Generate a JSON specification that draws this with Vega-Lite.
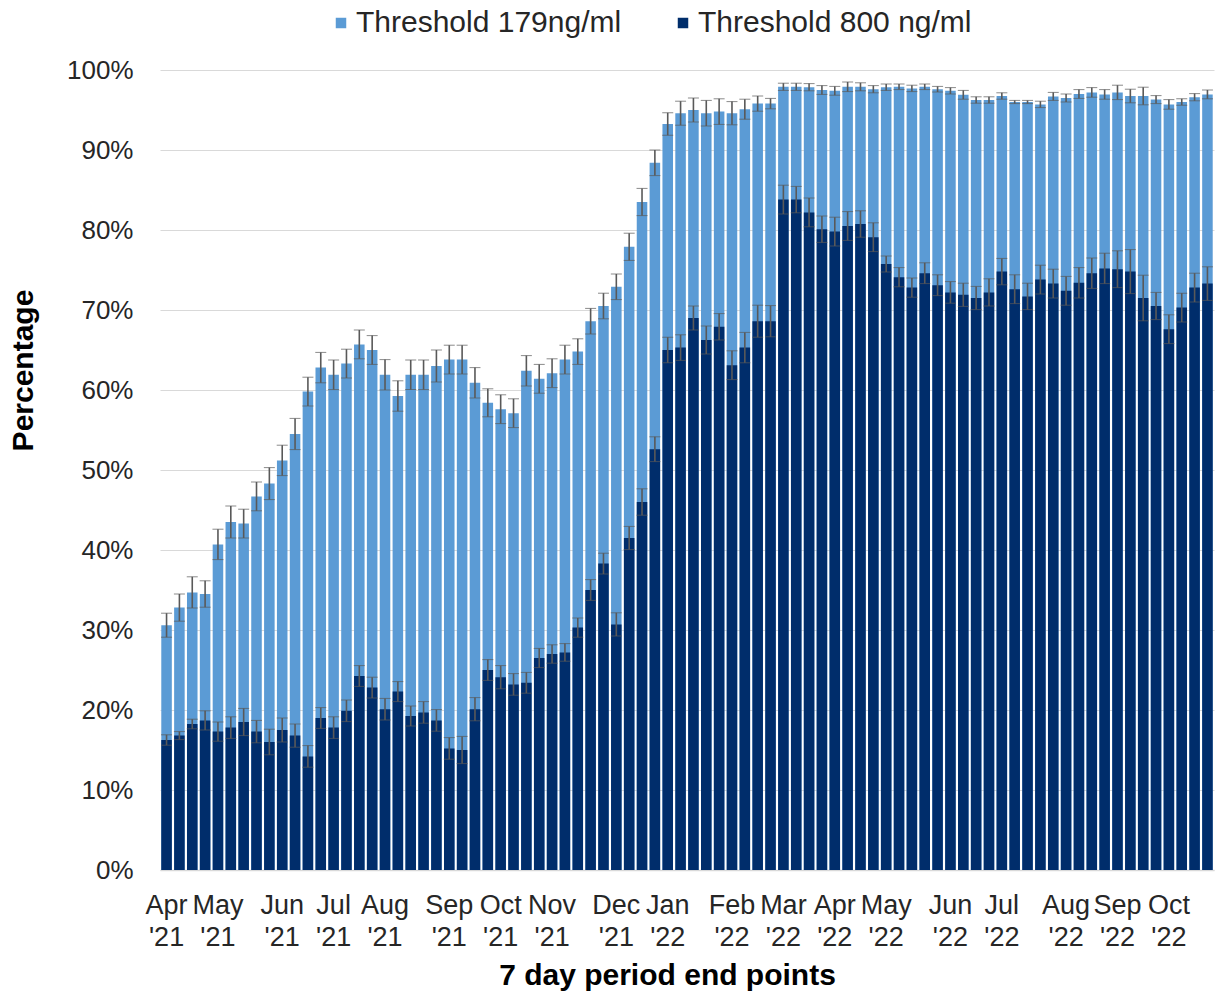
{
  "$schema": "https://vega.github.io/schema/vega-lite/v6.json",
  "width": 1054,
  "height": 800,
  "autosize": {"type": "none"},
  "padding": {"left": 160, "top": 70, "right": 2, "bottom": 121},
  "background": "white",
  "config": {
    "view": {"stroke": null},
    "font": "Liberation Sans",
    "axisX": {
      "domainColor": "#D9D9D9", "domainWidth": 1.5, "ticks": false, "grid": false,
      "labelFontSize": 27, "labelColor": "#262626", "labelAngle": 0, "labelPadding": 22,
      "labelLineHeight": 32, "labelOverlap": false, "labelBound": false, "labelFont": "Liberation Sans",
      "titleFontSize": 30, "titleFontWeight": "bold", "titleColor": "#000000", "titlePadding": 10, "titleFont": "Liberation Sans"
    },
    "axisY": {
      "domain": false, "ticks": false, "gridColor": "#D9D9D9", "gridWidth": 1,
      "labelFontSize": 26, "labelColor": "#262626", "labelPadding": 27, "labelFont": "Liberation Sans",
      "titleFontSize": 30, "titleFontWeight": "bold", "titleColor": "#000000", "titlePadding": 28, "titleFont": "Liberation Sans"
    }
  },
  "data": {"values": [
    {"w":0,"a":30.6,"aLo":29.1,"aHi":32.1,"b":16.25,"bLo":15.6,"bHi":16.9},
    {"w":1,"a":32.8,"aLo":31.1,"aHi":34.5,"b":16.8,"bLo":16.3,"bHi":17.3},
    {"w":2,"a":34.7,"aLo":32.75,"aHi":36.65,"b":18.25,"bLo":17.65,"bHi":18.85},
    {"w":3,"a":34.5,"aLo":32.85,"aHi":36.15,"b":18.7,"bLo":17.5,"bHi":19.9},
    {"w":4,"a":40.7,"aLo":38.8,"aHi":42.6,"b":17.3,"bLo":16.1,"bHi":18.5},
    {"w":5,"a":43.5,"aLo":41.5,"aHi":45.5,"b":17.8,"bLo":16.45,"bHi":19.15},
    {"w":6,"a":43.3,"aLo":41.5,"aHi":45.1,"b":18.5,"bLo":16.8,"bHi":20.2},
    {"w":7,"a":46.7,"aLo":44.9,"aHi":48.5,"b":17.3,"bLo":15.9,"bHi":18.7},
    {"w":8,"a":48.3,"aLo":46.3,"aHi":50.3,"b":16.0,"bLo":14.4,"bHi":17.6},
    {"w":9,"a":51.2,"aLo":49.3,"aHi":53.1,"b":17.5,"bLo":16.0,"bHi":19.0},
    {"w":10,"a":54.5,"aLo":52.55,"aHi":56.45,"b":16.8,"bLo":15.35,"bHi":18.25},
    {"w":11,"a":59.8,"aLo":58.0,"aHi":61.6,"b":14.2,"bLo":12.85,"bHi":15.55},
    {"w":12,"a":62.8,"aLo":60.9,"aHi":64.7,"b":19.0,"bLo":17.7,"bHi":20.3},
    {"w":13,"a":61.9,"aLo":60.05,"aHi":63.75,"b":17.8,"bLo":16.45,"bHi":19.15},
    {"w":14,"a":63.3,"aLo":61.5,"aHi":65.1,"b":19.9,"bLo":18.55,"bHi":21.25},
    {"w":15,"a":65.7,"aLo":63.9,"aHi":67.5,"b":24.25,"bLo":22.95,"bHi":25.55},
    {"w":16,"a":65.0,"aLo":63.2,"aHi":66.8,"b":22.8,"bLo":21.5,"bHi":24.1},
    {"w":17,"a":61.9,"aLo":60.0,"aHi":63.8,"b":20.1,"bLo":18.75,"bHi":21.45},
    {"w":18,"a":59.25,"aLo":57.35,"aHi":61.15,"b":22.3,"bLo":21.05,"bHi":23.55},
    {"w":19,"a":61.9,"aLo":60.05,"aHi":63.75,"b":19.25,"bLo":18.0,"bHi":20.5},
    {"w":20,"a":61.9,"aLo":60.05,"aHi":63.75,"b":19.7,"bLo":18.35,"bHi":21.05},
    {"w":21,"a":63.0,"aLo":61.0,"aHi":65.0,"b":18.7,"bLo":17.35,"bHi":20.05},
    {"w":22,"a":63.8,"aLo":62.0,"aHi":65.6,"b":15.2,"bLo":13.85,"bHi":16.55},
    {"w":23,"a":63.8,"aLo":62.0,"aHi":65.6,"b":15.0,"bLo":13.3,"bHi":16.7},
    {"w":24,"a":60.9,"aLo":59.0,"aHi":62.8,"b":20.1,"bLo":18.65,"bHi":21.55},
    {"w":25,"a":58.4,"aLo":56.65,"aHi":60.15,"b":25.0,"bLo":23.7,"bHi":26.3},
    {"w":26,"a":57.6,"aLo":55.8,"aHi":59.4,"b":24.1,"bLo":22.65,"bHi":25.55},
    {"w":27,"a":57.1,"aLo":55.3,"aHi":58.9,"b":23.2,"bLo":21.85,"bHi":24.55},
    {"w":28,"a":62.4,"aLo":60.5,"aHi":64.3,"b":23.4,"bLo":22.1,"bHi":24.7},
    {"w":29,"a":61.4,"aLo":59.6,"aHi":63.2,"b":26.5,"bLo":25.3,"bHi":27.7},
    {"w":30,"a":62.1,"aLo":60.3,"aHi":63.9,"b":27.0,"bLo":25.85,"bHi":28.15},
    {"w":31,"a":63.8,"aLo":62.0,"aHi":65.6,"b":27.2,"bLo":26.1,"bHi":28.3},
    {"w":32,"a":64.8,"aLo":63.2,"aHi":66.4,"b":30.3,"bLo":29.1,"bHi":31.5},
    {"w":33,"a":68.6,"aLo":67.0,"aHi":70.2,"b":35.0,"bLo":33.7,"bHi":36.3},
    {"w":34,"a":70.5,"aLo":68.9,"aHi":72.1,"b":38.3,"bLo":37.0,"bHi":39.6},
    {"w":35,"a":72.9,"aLo":71.3,"aHi":74.5,"b":30.7,"bLo":29.25,"bHi":32.15},
    {"w":36,"a":77.9,"aLo":76.2,"aHi":79.6,"b":41.5,"bLo":40.05,"bHi":42.95},
    {"w":37,"a":83.5,"aLo":81.8,"aHi":85.2,"b":46.0,"bLo":44.35,"bHi":47.65},
    {"w":38,"a":88.4,"aLo":86.8,"aHi":90.0,"b":52.6,"bLo":51.05,"bHi":54.15},
    {"w":39,"a":93.25,"aLo":91.85,"aHi":94.65,"b":65.0,"bLo":63.4,"bHi":66.6},
    {"w":40,"a":94.6,"aLo":93.1,"aHi":96.1,"b":65.3,"bLo":63.7,"bHi":66.9},
    {"w":41,"a":95.0,"aLo":93.5,"aHi":96.5,"b":69.0,"bLo":67.5,"bHi":70.5},
    {"w":42,"a":94.6,"aLo":93.0,"aHi":96.2,"b":66.25,"bLo":64.5,"bHi":68.0},
    {"w":43,"a":94.8,"aLo":93.2,"aHi":96.4,"b":67.9,"bLo":66.25,"bHi":69.55},
    {"w":44,"a":94.6,"aLo":93.15,"aHi":96.05,"b":63.1,"bLo":61.3,"bHi":64.9},
    {"w":45,"a":95.1,"aLo":93.85,"aHi":96.35,"b":65.3,"bLo":63.4,"bHi":67.2},
    {"w":46,"a":95.8,"aLo":94.85,"aHi":96.75,"b":68.6,"bLo":66.6,"bHi":70.6},
    {"w":47,"a":95.8,"aLo":95.15,"aHi":96.45,"b":68.6,"bLo":66.65,"bHi":70.55},
    {"w":48,"a":97.9,"aLo":97.45,"aHi":98.35,"b":83.8,"bLo":82.0,"bHi":85.6},
    {"w":49,"a":97.9,"aLo":97.45,"aHi":98.35,"b":83.8,"bLo":82.15,"bHi":85.45},
    {"w":50,"a":97.85,"aLo":97.4,"aHi":98.3,"b":82.2,"bLo":80.4,"bHi":84.0},
    {"w":51,"a":97.5,"aLo":96.95,"aHi":98.05,"b":80.1,"bLo":78.45,"bHi":81.75},
    {"w":52,"a":97.4,"aLo":96.85,"aHi":97.95,"b":79.8,"bLo":78.0,"bHi":81.6},
    {"w":53,"a":97.9,"aLo":97.3,"aHi":98.5,"b":80.5,"bLo":78.7,"bHi":82.3},
    {"w":54,"a":97.9,"aLo":97.4,"aHi":98.4,"b":80.75,"bLo":79.1,"bHi":82.4},
    {"w":55,"a":97.6,"aLo":97.15,"aHi":98.05,"b":79.1,"bLo":77.3,"bHi":80.9},
    {"w":56,"a":97.85,"aLo":97.45,"aHi":98.25,"b":75.75,"bLo":74.75,"bHi":76.75},
    {"w":57,"a":97.9,"aLo":97.55,"aHi":98.25,"b":74.1,"bLo":72.9,"bHi":75.3},
    {"w":58,"a":97.7,"aLo":97.3,"aHi":98.1,"b":72.8,"bLo":71.6,"bHi":74.0},
    {"w":59,"a":97.9,"aLo":97.55,"aHi":98.25,"b":74.6,"bLo":73.3,"bHi":75.9},
    {"w":60,"a":97.6,"aLo":97.25,"aHi":97.95,"b":73.1,"bLo":71.8,"bHi":74.4},
    {"w":61,"a":97.4,"aLo":97.0,"aHi":97.8,"b":72.2,"bLo":70.85,"bHi":73.55},
    {"w":62,"a":96.9,"aLo":96.35,"aHi":97.45,"b":71.9,"bLo":70.45,"bHi":73.35},
    {"w":63,"a":96.25,"aLo":95.85,"aHi":96.65,"b":71.5,"bLo":70.05,"bHi":72.95},
    {"w":64,"a":96.25,"aLo":95.85,"aHi":96.65,"b":72.2,"bLo":70.5,"bHi":73.9},
    {"w":65,"a":96.75,"aLo":96.35,"aHi":97.15,"b":74.8,"bLo":73.15,"bHi":76.45},
    {"w":66,"a":96.0,"aLo":95.8,"aHi":96.2,"b":72.6,"bLo":70.8,"bHi":74.4},
    {"w":67,"a":96.0,"aLo":95.8,"aHi":96.2,"b":71.7,"bLo":70.05,"bHi":73.35},
    {"w":68,"a":95.7,"aLo":95.3,"aHi":96.1,"b":73.8,"bLo":72.0,"bHi":75.6},
    {"w":69,"a":96.7,"aLo":96.2,"aHi":97.2,"b":73.3,"bLo":71.5,"bHi":75.1},
    {"w":70,"a":96.5,"aLo":96.0,"aHi":97.0,"b":72.4,"bLo":70.6,"bHi":74.2},
    {"w":71,"a":97.0,"aLo":96.45,"aHi":97.55,"b":73.4,"bLo":71.5,"bHi":75.3},
    {"w":72,"a":97.2,"aLo":96.6,"aHi":97.8,"b":74.6,"bLo":72.7,"bHi":76.5},
    {"w":73,"a":96.95,"aLo":96.35,"aHi":97.55,"b":75.2,"bLo":73.3,"bHi":77.1},
    {"w":74,"a":97.2,"aLo":96.3,"aHi":98.1,"b":75.1,"bLo":72.8,"bHi":77.4},
    {"w":75,"a":96.75,"aLo":95.9,"aHi":97.6,"b":74.8,"bLo":72.05,"bHi":77.55},
    {"w":76,"a":96.75,"aLo":95.65,"aHi":97.85,"b":71.5,"bLo":68.65,"bHi":74.35},
    {"w":77,"a":96.3,"aLo":95.8,"aHi":96.8,"b":70.5,"bLo":68.8,"bHi":72.2},
    {"w":78,"a":95.7,"aLo":95.1,"aHi":96.3,"b":67.6,"bLo":65.8,"bHi":69.4},
    {"w":79,"a":96.0,"aLo":95.6,"aHi":96.4,"b":70.3,"bLo":68.5,"bHi":72.1},
    {"w":80,"a":96.6,"aLo":96.15,"aHi":97.05,"b":72.8,"bLo":71.0,"bHi":74.6},
    {"w":81,"a":96.95,"aLo":96.4,"aHi":97.5,"b":73.3,"bLo":71.2,"bHi":75.4}
  ]},
  "encoding": {
    "x": {
      "field": "w", "type": "ordinal",
      "scale": {"paddingInner": 0.18, "paddingOuter": 0.1},
      "title": "7 day period end points",
      "axis": {
        "titleX": 507,
        "labelExpr": "({'0':['Apr',\"'21\"],'4':['May',\"'21\"],'9':['Jun',\"'21\"],'13':['Jul',\"'21\"],'17':['Aug',\"'21\"],'22':['Sep',\"'21\"],'26':['Oct',\"'21\"],'30':['Nov',\"'21\"],'35':['Dec',\"'21\"],'39':['Jan',\"'22\"],'44':['Feb',\"'22\"],'48':['Mar',\"'22\"],'52':['Apr',\"'22\"],'56':['May',\"'22\"],'61':['Jun',\"'22\"],'65':['Jul',\"'22\"],'70':['Aug',\"'22\"],'74':['Sep',\"'22\"],'78':['Oct',\"'22\"]})[datum.value] || ''"
      }
    }
  },
  "layer": [
    {
      "mark": {"type": "bar"},
      "encoding": {
        "y": {"field": "a", "type": "quantitative", "title": "Percentage",
              "scale": {"domain": [0, 100]},
              "axis": {"values": [0,10,20,30,40,50,60,70,80,90,100], "labelExpr": "datum.value + '%'", "titleY": 300}},
        "color": {
          "datum": "Threshold 179ng/ml",
          "scale": {"domain": ["Threshold 179ng/ml", "Threshold 800 ng/ml"], "range": ["#5B9BD5", "#002D6B"]},
          "legend": {
            "orient": "none", "direction": "horizontal", "legendX": 166, "legendY": -62,
            "padding": 0,
            "title": null, "symbolType": "square", "symbolSize": 110, "symbolStrokeWidth": 0,
            "labelFontSize": 30, "labelFont": "Liberation Sans", "labelColor": "#262626", "labelOffset": 0,
            "labelLimit": 0, "columnPadding": 46
          }
        }
      }
    },
    {
      "mark": {"type": "errorbar", "ticks": {"size": 11, "color": "#595959", "strokeWidth": 1.6}, "rule": {"color": "#595959", "strokeWidth": 1.6}},
      "encoding": {
        "y": {"field": "aLo", "type": "quantitative", "title": "Percentage", "scale": {"domain": [0, 100]}},
        "y2": {"field": "aHi"}
      }
    },
    {
      "mark": {"type": "bar"},
      "encoding": {
        "y": {"field": "b", "type": "quantitative", "title": "Percentage", "scale": {"domain": [0, 100]}},
        "color": {"datum": "Threshold 800 ng/ml"}
      }
    },
    {
      "mark": {"type": "errorbar", "ticks": {"size": 11, "color": "#595959", "strokeWidth": 1.6}, "rule": {"color": "#595959", "strokeWidth": 1.6}},
      "encoding": {
        "y": {"field": "bLo", "type": "quantitative", "title": "Percentage", "scale": {"domain": [0, 100]}},
        "y2": {"field": "bHi"}
      }
    }
  ]
}
